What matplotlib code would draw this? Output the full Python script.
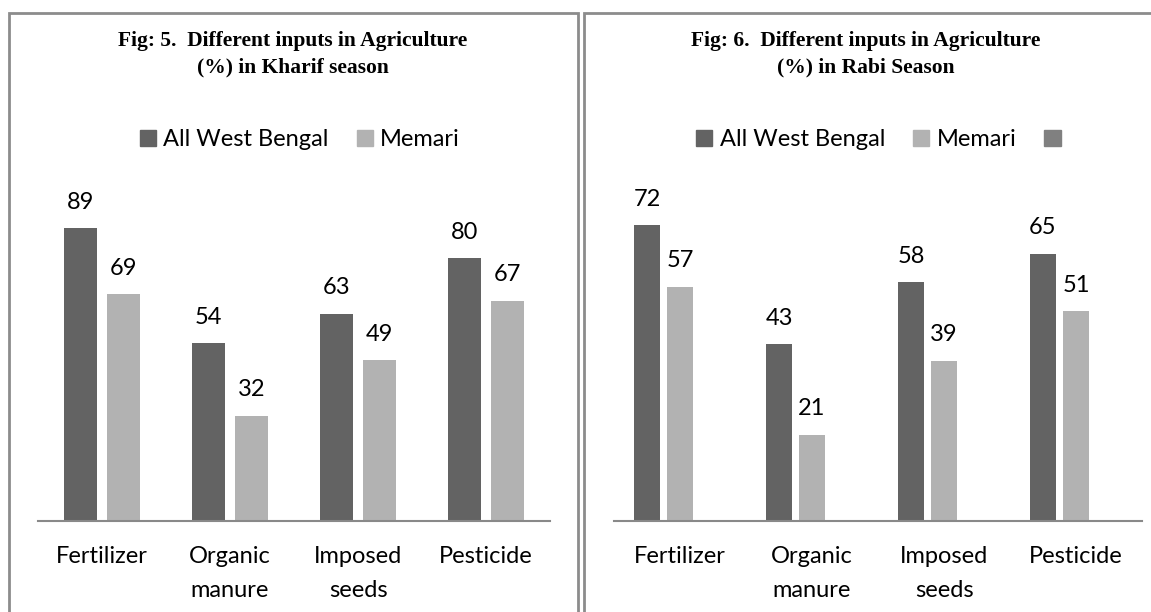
import numpy as np
import matplotlib
matplotlib.use("Agg")
import matplotlib.pyplot as plt
import matplotlib.patches as patches

# data
categories = ["Fertilizer", "Organic\nmanure", "Imposed\nseeds", "Pesticide"]
kharif_wb = [89, 54, 63, 80]
kharif_memari = [69, 32, 49, 67]
rabi_wb = [72, 43, 58, 65]
rabi_memari = [57, 21, 39, 51]
rabi_blank = [np.nan, np.nan, np.nan, np.nan]

dark = "#636363"
light = "#b2b2b2"
mid = "#808080"
frame_col = "#8c8c8c"
FONT = "Lato"
FS = 17

W, H = 1151, 612
fig = plt.figure(figsize=(W / 100, H / 100), dpi=100)


def fx(px):
    return px / W


def fy(py):
    return 1 - py / H


# frames round each chart
fig.patches.append(patches.Rectangle((fx(9), fy(700)), fx(578 - 9), (700 - 13) / H,
                                     transform=fig.transFigure, fill=False,
                                     edgecolor=frame_col, linewidth=2))
fig.patches.append(patches.Rectangle((fx(584), fy(700)), fx(700), (700 - 13) / H,
                                     transform=fig.transFigure, fill=False,
                                     edgecolor=frame_col, linewidth=2))


def setup_axes(ax, ymax):
    ax.set_xlim(-0.5, 3.5)
    ax.set_ylim(0, ymax)
    for s in ["top", "right", "left"]:
        ax.spines[s].set_visible(False)
    ax.spines["bottom"].set_color("#898989")
    ax.spines["bottom"].set_linewidth(1.5)
    ax.set_yticks([])
    ax.set_xticks(np.arange(len(categories)))
    ax.set_xticklabels(categories, fontsize=FS, family=FONT, color="black",
                       linespacing=1.75)
    ax.tick_params(axis="x", length=0, pad=18)


x = np.arange(len(categories))

# left chart: Kharif
ax1 = fig.add_axes([fx(38), fy(521), fx(550 - 38), (521 - 192) / H])
setup_axes(ax1, 100)
b1 = ax1.bar(x - 0.166, kharif_wb, width=0.26, color=dark, label="All West Bengal")
b2 = ax1.bar(x + 0.166, kharif_memari, width=0.26, color=light, label="Memari")
for b in (b1, b2):
    ax1.bar_label(b, padding=11, fontsize=FS, family=FONT)

# right chart: Rabi (third empty series as in the original)
ax2 = fig.add_axes([fx(614), fy(521), fx(1142 - 614), (521 - 192) / H])
setup_axes(ax2, 80)
c1 = ax2.bar(x - 0.25, rabi_wb, width=0.2, color=dark)
c2 = ax2.bar(x, rabi_memari, width=0.2, color=light)
c3 = ax2.bar(x + 0.25, rabi_blank, width=0.2, color=mid)
for b in (c1, c2):
    ax2.bar_label(b, padding=11, fontsize=FS, family=FONT)

# titles
title_kw = dict(fontsize=15.5, family="Liberation Serif", fontweight="bold",
                ha="center", va="center", linespacing=1.4)
fig.text(fx(293), fy(54), "Fig: 5.  Different inputs in Agriculture\n(%) in Kharif season", **title_kw)
fig.text(fx(866), fy(54), "Fig: 6.  Different inputs in Agriculture\n(%) in Rabi Season", **title_kw)

# legends
leg_kw = dict(loc="center", frameon=False, prop={"family": FONT, "size": FS},
              handlelength=0.68, handleheight=0.68, handletextpad=0.3,
              columnspacing=1.2, borderaxespad=0)
h_dark = patches.Patch(color=dark)
h_light = patches.Patch(color=light)
h_mid = patches.Patch(color=mid)
fig.legend([h_dark, h_light], ["All West Bengal", "Memari"], ncol=2,
           bbox_to_anchor=(fx(300), fy(140)), **leg_kw)
fig.legend([h_dark, h_light, h_mid], ["All West Bengal", "Memari", " "], ncol=3,
           bbox_to_anchor=(fx(885), fy(140)), **leg_kw)

fig.savefig("out.png", dpi=100)
